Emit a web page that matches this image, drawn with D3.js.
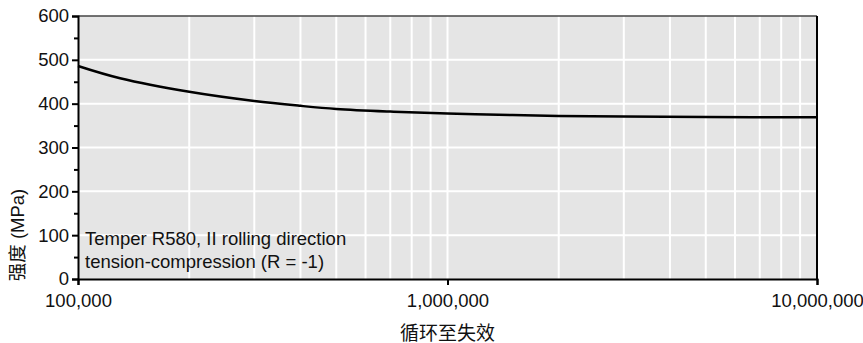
<!DOCTYPE html>
<html>
<head>
<meta charset="utf-8">
<script src="https://cdn.jsdelivr.net/npm/d3@7"></script>
<style>
  body { margin: 0; background: #fff; }
  svg text { font-family: "Liberation Sans", Arial, "Noto Sans CJK SC", sans-serif; fill: #111; }
</style>
</head>
<body>
<script>
// cycles to failure vs strength
var cycles   = [1e5, 1.3e5, 2e5, 3e5, 4e5, 5e5, 7e5, 1e6, 1.5e6, 2e6, 3e6, 5e6, 1e7];
var strength = [486, 458, 427, 406, 395, 388, 382, 377.5, 374, 372, 370.5, 369.5, 369];

var xMajor = [1e5, 1e6, 1e7];
var yMajor = [0, 100, 200, 300, 400, 500, 600];
var yMinor = [50, 150, 250, 350, 450, 550];
var xLabel = "循环至失效";
var yLabel = "强度 (MPa)";
var note = ["Temper R580, II rolling direction", "tension-compression (R = -1)"];

var width = 863, height = 343;
var margin = {left: 78, right: 46, top: 16, bottom: 64};
var w = width - margin.left - margin.right;
var h = height - margin.top - margin.bottom;

var svg = d3.select("body").append("svg")
    .attr("width", width)
    .attr("height", height);

var g = svg.append("g")
    .attr("transform", "translate(" + margin.left + "," + margin.top + ")");

var x = d3.scaleLog().domain([1e5, 1e7]).range([0, w]);
var y = d3.scaleLinear().domain([0, 600]).range([h, 0]);

// background
g.append("rect")
    .attr("width", w)
    .attr("height", h)
    .attr("fill", "#e5e5e5");

// vertical grid on every log step
var xGrid = [];
[1e5, 1e6].forEach(function(dec) {
    for (var k = 2; k <= 10; k++) xGrid.push(dec * k);
});
g.selectAll(".vgrid")
    .data(xGrid.filter(function(d) { return d < 1e7; }))
    .enter().append("line")
    .attr("x1", function(d) { return x(d); })
    .attr("x2", function(d) { return x(d); })
    .attr("y1", 0)
    .attr("y2", h)
    .attr("stroke", "#fff")
    .attr("stroke-width", 2);

g.selectAll(".hgrid")
    .data(yMajor.filter(function(d) { return d > 0 && d < 600; }))
    .enter().append("line")
    .attr("x1", 0)
    .attr("x2", w)
    .attr("y1", function(d) { return y(d); })
    .attr("y2", function(d) { return y(d); })
    .attr("stroke", "#fff")
    .attr("stroke-width", 2);

// curve
var line = d3.line()
    .x(function(d) { return x(d[0]); })
    .y(function(d) { return y(d[1]); })
    .curve(d3.curveCatmullRom.alpha(0.5));

g.append("path")
    .datum(cycles.map(function(c, i) { return [c, strength[i]]; }))
    .attr("d", line)
    .attr("fill", "none")
    .attr("stroke", "#000")
    .attr("stroke-width", 2.5);

// frame: top grey, right black
g.append("line")
    .attr("x1", 0).attr("x2", w).attr("y1", 0).attr("y2", 0)
    .attr("stroke", "#444").attr("stroke-width", 1.5);
g.append("line")
    .attr("x1", w).attr("x2", w).attr("y1", 0).attr("y2", h)
    .attr("stroke", "#000").attr("stroke-width", 2);

// axes
var yAxis = g.append("g")
    .call(d3.axisLeft(y).tickValues(yMajor).tickSize(6).tickPadding(3));
g.append("g")
    .call(d3.axisLeft(y).tickValues(yMinor).tickSize(4).tickFormat(""))
    .select(".domain").remove();

var xAxis = g.append("g")
    .attr("transform", "translate(0," + h + ")")
    .call(d3.axisBottom(x).tickValues(xMajor).tickFormat(d3.format(",")).tickSize(6).tickPadding(9));

[yAxis, xAxis].forEach(function(a) {
    a.select(".domain").attr("stroke", "#000").attr("stroke-width", 2);
});
g.selectAll(".tick line").attr("stroke", "#000").attr("stroke-width", 2);
g.selectAll(".tick text").style("font-size", "18.5px").attr("fill", "#111");

// annotation
g.selectAll(".note")
    .data(note)
    .enter().append("text")
    .attr("x", 7)
    .attr("y", function(d, i) { return y(0) - 34 + i * 23; })
    .style("font-size", "18.5px")
    .text(function(d) { return d; });

// axis titles
svg.append("text")
    .attr("x", margin.left + x(1e6))
    .attr("y", 340)
    .attr("text-anchor", "middle")
    .style("font-size", "19px")
    .text(xLabel);

svg.append("text")
    .attr("transform", "translate(24,235) rotate(-90)")
    .attr("text-anchor", "middle")
    .style("font-size", "18.5px")
    .text(yLabel);
</script>
</body>
</html>
